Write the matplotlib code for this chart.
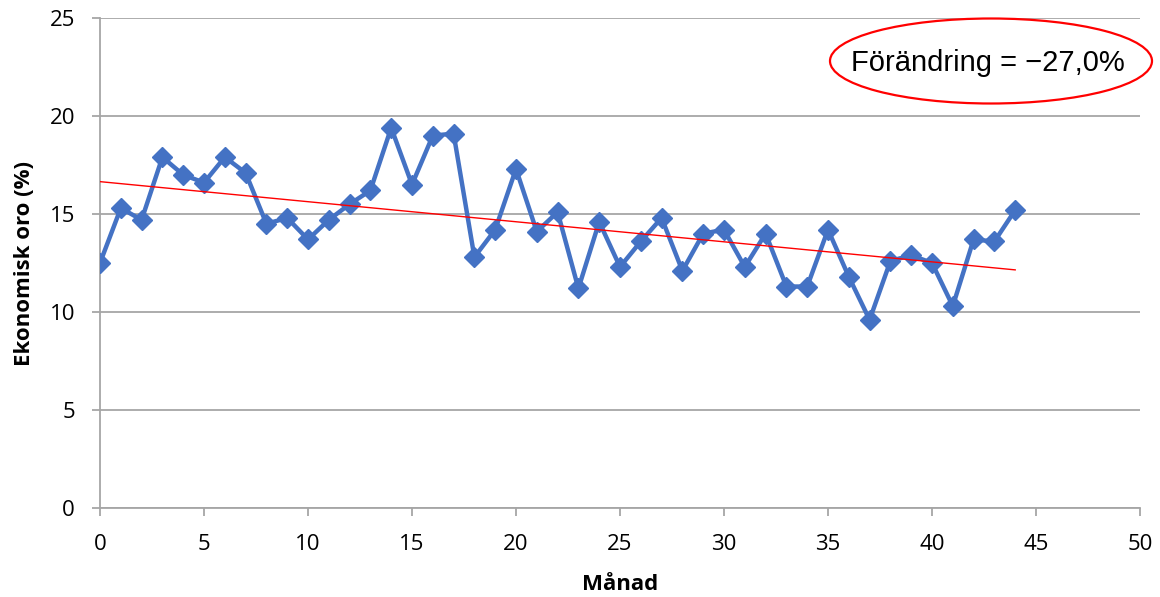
import numpy as np
import matplotlib.pyplot as plt
from matplotlib.patches import Ellipse

# Data
manad = list(range(45))
oro = [12.5, 15.3, 14.7, 17.9, 17.0, 16.6, 17.9, 17.1, 14.5, 14.8,
       13.7, 14.7, 15.5, 16.2, 19.4, 16.5, 19.0, 19.1, 12.8, 14.2,
       17.3, 14.1, 15.1, 11.2, 14.6, 12.3, 13.6, 14.8, 12.1, 14.0,
       14.2, 12.3, 14.0, 11.3, 11.3, 14.2, 11.8, 9.6, 12.6, 12.9,
       12.5, 10.3, 13.7, 13.6, 15.2]
x_ticks = [0, 5, 10, 15, 20, 25, 30, 35, 40, 45, 50]
y_ticks = [0, 5, 10, 15, 20, 25]
ann_text = "Förändring = \u221227,0%"

blue = "#4472C4"
grey = "#A6A6A6"

fig = plt.figure(figsize=(11.6, 5.97), dpi=100)
ax = fig.add_axes([100 / 1160, 1 - 508 / 597, 1040 / 1160, 490 / 597])

# linjär trend
k, m = np.polyfit(manad, oro, 1)
trend = [k * x + m for x in manad]

ax.plot(manad, oro, color=blue, lw=3.2, marker="D", markersize=10, zorder=3)
ax.plot(manad, trend, color="red", lw=1, zorder=4)

ax.set_xlim(0, 50)
ax.set_ylim(0, 25)
ax.set_xticks(x_ticks)
ax.set_yticks(y_ticks)
ax.yaxis.grid(True, color=grey, lw=1.3)
ax.set_axisbelow(True)
for s in ["top", "right"]:
    ax.spines[s].set_visible(False)
for s in ["left", "bottom"]:
    ax.spines[s].set_color(grey)
    ax.spines[s].set_linewidth(1.3)
ax.tick_params(axis="both", colors=grey, length=6, width=1.3, labelcolor="black",
               labelsize=16)
ax.tick_params(axis="x", pad=13)
ax.tick_params(axis="y", pad=12)
for lab in ax.get_xticklabels() + ax.get_yticklabels():
    lab.set_family("Open Sans")

ax.set_xlabel("Månad", fontsize=16, fontweight="bold", family="Open Sans", va="center")
ax.set_ylabel("Ekonomisk oro (%)", fontsize=16, fontweight="bold", family="Open Sans", va="center")
ax.xaxis.set_label_coords(0.5, (508 - 585) / 490)
ax.yaxis.set_label_coords((25 - 100) / 1040, 0.5)

# annotation i röd ellips
ell = Ellipse((991 / 1160, 1 - 61 / 597), 322 / 1160, 85 / 597, transform=fig.transFigure,
              fill=False, edgecolor="red", lw=1.6, clip_on=False)
fig.patches.append(ell)
fig.text(988 / 1160, 1 - 63 / 597, ann_text, ha="center", va="center",
         fontsize=21, family="Liberation Sans")

fig.savefig("out.png", dpi=100)
